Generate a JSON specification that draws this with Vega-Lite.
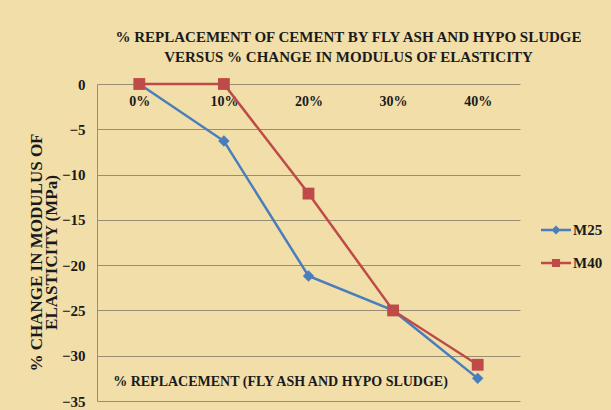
{
  "$schema": "https://vega.github.io/schema/vega-lite/v6.json",
  "width": 423,
  "height": 317,
  "autosize": "none",
  "padding": {"left": 97, "top": 84, "right": 91, "bottom": 9},
  "background": "#F1DEA9",
  "config": {"view": {"stroke": null}, "font": "'Liberation Serif', 'Times New Roman', serif"},
  "title": {
    "text": ["% REPLACEMENT OF CEMENT BY  FLY ASH AND HYPO SLUDGE", "VERSUS % CHANGE IN MODULUS OF ELASTICITY"],
    "fontSize": 15,
    "font": "'Liberation Serif', 'Times New Roman', serif",
    "fontWeight": "bold",
    "color": "#1a1a1a",
    "anchor": "middle",
    "dx": 40,
    "offset": 12,
    "lineHeight": 20
  },
  "data": {
    "values": [
      {"pct": "0%", "series": "M25", "value": 0},
      {"pct": "10%", "series": "M25", "value": -6.3},
      {"pct": "20%", "series": "M25", "value": -21.2},
      {"pct": "30%", "series": "M25", "value": -25.0},
      {"pct": "40%", "series": "M25", "value": -32.5},
      {"pct": "0%", "series": "M40", "value": 0},
      {"pct": "10%", "series": "M40", "value": 0},
      {"pct": "20%", "series": "M40", "value": -12.1},
      {"pct": "30%", "series": "M40", "value": -25.0},
      {"pct": "40%", "series": "M40", "value": -31.0}
    ]
  },
  "encoding": {
    "x": {
      "field": "pct",
      "type": "nominal",
      "sort": ["0%", "10%", "20%", "30%", "40%"],
      "scale": {"type": "point", "padding": 0.5},
      "axis": {
        "orient": "bottom",
        "offset": -317,
        "domain": false,
        "ticks": false,
        "grid": false,
        "labelAngle": 0,
        "labelPadding": 10,
        "labelFont": "'Liberation Serif', 'Times New Roman', serif",
        "labelFontWeight": "bold",
        "labelFontSize": 14,
        "labelColor": "#1a1a1a",
        "title": "% REPLACEMENT (FLY ASH AND HYPO SLUDGE)",
        "titleFont": "'Liberation Serif', 'Times New Roman', serif",
        "titleFontWeight": "bold",
        "titleFontSize": 14,
        "titleColor": "#1a1a1a",
        "titleX": 183,
        "titleY": 301,
        "titleAlign": "center",
        "titleBaseline": "alphabetic"
      }
    },
    "y": {
      "field": "value",
      "type": "quantitative",
      "scale": {"domain": [-35, 0], "nice": false, "zero": false},
      "axis": {
        "values": [0, -5, -10, -15, -20, -25, -30, -35],
        "grid": true,
        "gridColor": "#9A8E72",
        "gridWidth": 1,
        "domain": true,
        "domainColor": "#9A8E72",
        "ticks": false,
        "labelPadding": 12,
        "labelFont": "'Liberation Serif', 'Times New Roman', serif",
        "labelFontWeight": "bold",
        "labelFontSize": 15,
        "labelColor": "#1a1a1a",
        "title": ["% CHANGE IN MODULUS OF", "ELASTICITY  (MPa)"],
        "titleFont": "'Liberation Serif', 'Times New Roman', serif",
        "titleFontWeight": "bold",
        "titleFontSize": 17,
        "titleColor": "#1a1a1a",
        "titleAngle": -90,
        "titleX": -56,
        "titleY": 168,
        "titleAlign": "center",
        "titleBaseline": "alphabetic",
        "titleLineHeight": 15
      }
    },
    "color": {
      "field": "series",
      "type": "nominal",
      "scale": {"domain": ["M25", "M40"], "range": ["#4A7EBB", "#BE4B48"]},
      "legend": {
        "title": null,
        "orient": "none",
        "legendX": 444,
        "legendY": 131,
        "symbolSize": 900,
        "symbolType": "M-1,-0.09H1V0.09H-1Z M-0.27,-0.27H0.27V0.27H-0.27Z",
        "symbolStrokeWidth": 0,
        "rowPadding": 10,
        "labelFont": "'Liberation Serif', 'Times New Roman', serif",
        "labelFontWeight": "bold",
        "labelFontSize": 15,
        "labelColor": "#1a1a1a",
        "labelOffset": 2,
        "encode": {
          "symbols": {
            "update": {
              "fill": {"scale": "color", "field": "value"},
              "fillOpacity": {"value": 1},
              "strokeWidth": {"value": 0},
              "shape": {"signal": "datum.value === 'M25' ? 'M-1,-0.09H1V0.09H-1Z M0,-0.3L0.3,0L0,0.3L-0.3,0Z' : 'M-1,-0.09H1V0.09H-1Z M-0.27,-0.27H0.27V0.27H-0.27Z'"}
            }
          }
        }
      }
    }
  },
  "layer": [
    {"mark": {"type": "line", "strokeWidth": 2.5}},
    {
      "transform": [{"filter": "datum.series === 'M25'"}],
      "mark": {"type": "point", "filled": true, "opacity": 1, "size": 130, "shape": "diamond"}
    },
    {
      "transform": [{"filter": "datum.series === 'M40'"}],
      "mark": {"type": "point", "filled": true, "opacity": 1, "size": 140, "shape": "square"}
    }
  ]
}
